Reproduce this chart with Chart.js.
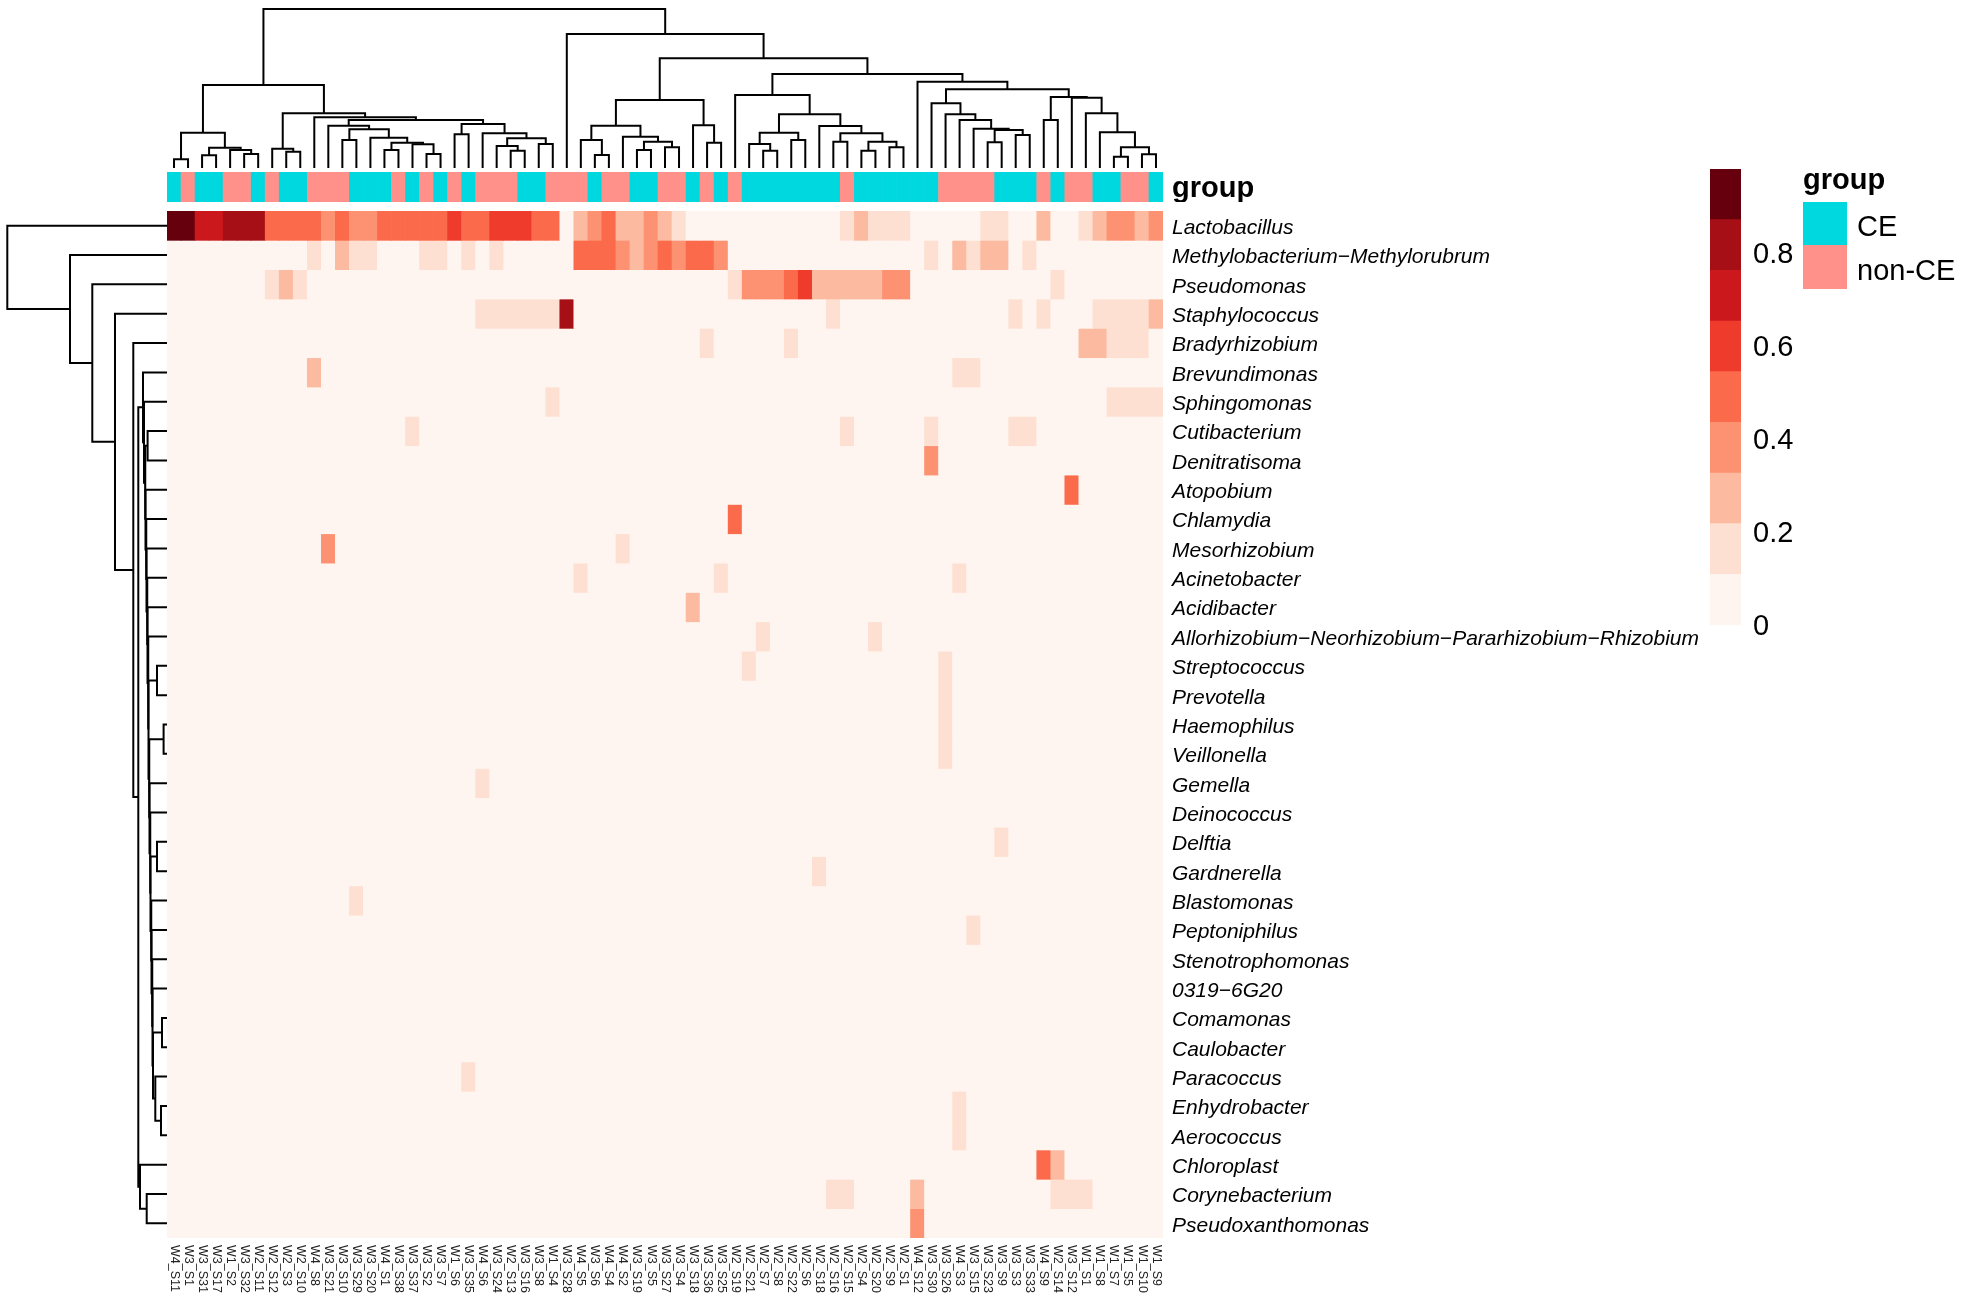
<!DOCTYPE html>
<html>
<head>
<meta charset="utf-8">
<script src="https://cdn.jsdelivr.net/npm/chart.js@4.4.0/dist/chart.umd.min.js"></script>
<style>
  body { margin: 0; background: #fff; width: 1961px; height: 1295px; position: relative; overflow: hidden;
         font-family: "Liberation Sans", Arial, sans-serif; }
  canvas { position: absolute; }
  .leg { position: absolute; font-size: 29px; line-height: 29px; color: #000; white-space: nowrap; }
  .box { position: absolute; width: 44px; }
</style>
</head>
<body>
<canvas id="colDend" width="996" height="168" style="left:167px;top:0px"></canvas>
<canvas id="rowDend" width="167" height="1027" style="left:0px;top:211px"></canvas>
<canvas id="annot" width="1120" height="30" style="left:167px;top:172px"></canvas>
<canvas id="heat" width="1541" height="1084" style="left:167px;top:211px"></canvas>
<canvas id="key" width="101" height="500" style="left:1710px;top:150px"></canvas>
<div class="leg" style="left:1803px;top:165px;font-weight:bold">group</div>
<div class="box" style="left:1803px;top:202px;height:43px;background:#00D8E0"></div>
<div class="box" style="left:1803px;top:245px;height:44px;background:#FF918A"></div>
<div class="leg" style="left:1857px;top:212px">CE</div>
<div class="leg" style="left:1857px;top:256px">non-CE</div>
<script>
// samples in dendrogram order (left to right)
const samples = ['W4_S11','W3_S1','W3_S31','W3_S17','W1_S2','W3_S32','W2_S11','W2_S12','W2_S3','W2_S10',
  'W4_S8','W3_S21','W3_S10','W3_S29','W3_S20','W4_S1','W3_S38','W3_S37','W3_S2','W3_S7',
  'W1_S6','W3_S35','W4_S6','W3_S24','W2_S13','W3_S16','W3_S8','W1_S4','W3_S28','W4_S5',
  'W3_S6','W4_S4','W4_S2','W3_S19','W3_S5','W3_S27','W3_S4','W3_S18','W3_S36','W3_S25',
  'W2_S19','W2_S21','W2_S7','W2_S8','W2_S22','W2_S6','W2_S18','W2_S16','W2_S15','W2_S4',
  'W2_S20','W2_S9','W2_S1','W4_S12','W3_S30','W3_S26','W4_S3','W3_S15','W3_S23','W3_S9',
  'W3_S3','W3_S33','W4_S9','W2_S14','W3_S12','W1_S1','W1_S8','W1_S7','W1_S5','W1_S10','W1_S9'];

// C = CE, N = non-CE, same order as samples
const sampleGroup = 'CNCCNNCNCC NNNCCCNCNC NCNNNCCNNN CNNCCNNCNC NCCCCCCCNC CCCCCNNNNC CCNCNNCCNNC'
  .replace(/ /g, '').split('');
const groupNames = {C: 'CE', N: 'non-CE'};
const groupColors = {C: '#00D8E0', N: '#FF918A'};

const genera = ['Lactobacillus','Methylobacterium\u2212Methylorubrum','Pseudomonas','Staphylococcus',
  'Bradyrhizobium','Brevundimonas','Sphingomonas','Cutibacterium','Denitratisoma','Atopobium',
  'Chlamydia','Mesorhizobium','Acinetobacter','Acidibacter',
  'Allorhizobium\u2212Neorhizobium\u2212Pararhizobium\u2212Rhizobium','Streptococcus','Prevotella',
  'Haemophilus','Veillonella','Gemella','Deinococcus','Delftia','Gardnerella','Blastomonas',
  'Peptoniphilus','Stenotrophomonas','0319\u22126G20','Comamonas','Caulobacter','Paracoccus',
  'Enhydrobacter','Aerococcus','Chloroplast','Corynebacterium','Pseudoxanthomonas'];

// relative abundance per genus, one digit per sample = colour bin (0..8)
const Z = '0000000000', Z11 = '00000000000';
const abundanceBins = [
  ['8866777444','4343344444','5445554402','3422321000','0000000012','1110000011','00200123323'],
  [Z,'1021100011','0101000004','4432343443',Z,'0000102122','01000000000'],
  ['0000000121',Z,Z,Z,'1333452222','2330000000','00010000000'],
  [Z,Z,'0011111170',Z,'0000000100',Z,'10100011112'],
  [Z,Z,Z,'0000000010','0000100000',Z,'00000221110'],
  [Z,'2000000000',Z,Z,Z,'0000001100',Z11],
  [Z,Z,'0000000100',Z,Z,Z,'00000001111'],
  [Z,'0000000100',Z,Z,'0000000010','0000100000','11000000000'],
  [Z,Z,Z,Z,Z,'0000300000',Z11],
  [Z,Z,Z,Z,Z,Z,'00004000000'],
  [Z,Z,Z,Z,'4000000000',Z,Z11],
  [Z,'0300000000',Z,'0010000000',Z,Z,Z11],
  [Z,Z,'0000000001','0000000001',Z,'0000001000',Z11],
  [Z,Z,Z,'0000000200',Z,Z,Z11],
  [Z,Z,Z,Z,'0010000000','1000000000',Z11],
  [Z,Z,Z,Z,'0100000000','0000010000',Z11],
  [Z,Z,Z,Z,Z,'0000010000',Z11],
  [Z,Z,Z,Z,Z,'0000010000',Z11],
  [Z,Z,Z,Z,Z,'0000010000',Z11],
  [Z,Z,'0010000000',Z,Z,Z,Z11],
  [Z,Z,Z,Z,Z,Z,Z11],
  [Z,Z,Z,Z,Z,'0000000001',Z11],
  [Z,Z,Z,Z,'0000001000',Z,Z11],
  [Z,'0001000000',Z,Z,Z,Z,Z11],
  [Z,Z,Z,Z,Z,'0000000100',Z11],
  [Z,Z,Z,Z,Z,Z,Z11],
  [Z,Z,Z,Z,Z,Z,Z11],
  [Z,Z,Z,Z,Z,Z,Z11],
  [Z,Z,Z,Z,Z,Z,Z11],
  [Z,Z,'0100000000',Z,Z,Z,Z11],
  [Z,Z,Z,Z,Z,'0000001000',Z11],
  [Z,Z,Z,Z,Z,'0000001000',Z11],
  [Z,Z,Z,Z,Z,Z,'00420000000'],
  [Z,Z,Z,Z,'0000000110','0002000000','00011100000'],
  [Z,Z,Z,Z,Z,'0003000000',Z11]
];

// colour key: 9 equal bins from 0 to ~0.98 (RColorBrewer Reds)
const keyMax = 0.98;
const keyColors = ['#FFF5F0','#FEE0D2','#FCBBA1','#FC9272','#FB6A4A','#EF3B2C','#CB181D','#A50F15','#67000D'];
const keyTicks = [0, 0.2, 0.4, 0.6, 0.8];

// column dendrogram: [left, right, height]; number = sample index, 'mK' = merge K
const colMerges = [
  [0,1,8.7],[2,3,12.7],[5,6,14],[4,'m2',18],['m1','m3',20.3],['m0','m4',35.3],
  [8,9,16.3],[7,'m6',19.3],[12,13,28],[15,16,18],[18,19,14],[17,'m10',23.7],
  ['m9','m11',25.3],[14,'m12',30.3],['m8','m13',38.7],[11,'m14',42.3],[20,21,33.7],
  [24,25,17.3],[23,'m17',22],[26,27,24],['m18','m19',29.7],[22,'m20',34.7],
  ['m16','m21',44],['m15','m22',48],[10,'m23',50.7],['m7','m24',54.7],['m5','m25',83],
  [30,31,13],[29,'m27',28],[33,34,18],[35,36,20.7],['m29','m30',26.3],[32,'m31',31.3],
  ['m28','m32',42.3],[38,39,25.3],[37,'m34',42.7],['m33','m35',68],
  [42,43,17.3],[41,'m37',24],[44,45,28],['m38','m39',35.3],[47,48,26.3],[49,50,17.3],
  [51,52,20.7],['m42','m43',26.3],['m41','m44',34.7],[46,'m45',42],['m40','m46',53.7],
  [40,'m47',73],[58,59,25.7],[60,61,33],['m49','m50',38],[57,'m51',39.3],[56,'m52',48],
  [55,'m53',53.7],[54,'m54',64.7],[62,63,48],[67,68,11.3],[69,70,13.7],['m57','m58',20.7],
  [66,'m59',35.7],[65,'m60',54.7],[64,'m61',70.3],['m56','m62',71],['m55','m63',78.7],
  [53,'m64',86.3],['m48','m65',94],['m36','m66',109.7],[28,'m67',134],['m26','m68',159]
];

// row dendrogram, same notation (number = genus index)
const rowMerges = [
  [33,34,20.3],[32,'m0',27],[30,31,6],[29,'m2',11.7],[27,28,5],['m4','m3',14],
  [26,'m5',14.5],[25,'m6',15],[24,'m7',15.5],[23,'m8',16],[21,22,10],['m10','m9',16.5],
  [20,'m11',17],[19,'m12',17.5],[17,18,3.4],['m14','m13',18],[15,16,10],['m16','m15',18.5],
  [14,'m17',19],[13,'m18',19.5],[12,'m19',20],[11,'m20',20.5],[10,'m21',21],[9,'m22',21.5],
  [7,8,19.4],['m24','m23',22],[6,'m25',23],[5,'m26',24],['m27','m1',28.7],[4,'m28',33.7],
  [3,'m29',52],[2,'m30',74.7],[1,'m31',97],[0,'m32',159.7]
];

Chart.defaults.font.family = '"Liberation Sans", Arial, sans-serif';
Chart.defaults.color = '#000';
Chart.defaults.animation = false;
Chart.defaults.events = [];
Chart.defaults.plugins.legend.display = false;
Chart.defaults.plugins.tooltip.enabled = false;

const binWidth = keyMax / keyColors.length;
function colourFor(v) {
  return keyColors[Math.min(keyColors.length - 1, Math.floor(v / binWidth))];
}
const abundance = abundanceBins.map(parts => parts.join('').split('').map(d => (+d + 0.5) * binWidth));
abundance.forEach((r, i) => { if (r.length !== samples.length) console.warn('row', i, r.length); });

// turn merges into 4-point elbows
function dendroSegments(merges) {
  const mx = [], mh = [];
  const node = ref => typeof ref === 'number' ? [ref + 0.5, 0] : [mx[+ref.slice(1)], mh[+ref.slice(1)]];
  return merges.map(([a, b, h], k) => {
    const [xa, ha] = node(a), [xb, hb] = node(b);
    mx[k] = (xa + xb) / 2;
    mh[k] = h;
    return [[xa, ha], [xa, h], [xb, h], [xb, hb]];
  });
}

const lineStyle = {showLine: true, pointRadius: 0, borderColor: '#000', borderWidth: 2, clip: false};
const noPad = s => { s.paddingTop = 0; s.paddingBottom = 0; };

new Chart(document.getElementById('colDend'), {
  type: 'scatter',
  data: {datasets: dendroSegments(colMerges).map(seg => ({
    ...lineStyle, data: seg.map(([p, h]) => ({x: p, y: h}))
  }))},
  options: {
    responsive: false,
    scales: {
      x: {type: 'linear', min: 0, max: samples.length, display: false},
      y: {type: 'linear', min: 0, max: 168, display: false}
    }
  }
});

new Chart(document.getElementById('rowDend'), {
  type: 'scatter',
  data: {datasets: dendroSegments(rowMerges).map(seg => ({
    ...lineStyle, data: seg.map(([p, h]) => ({x: h, y: p}))
  }))},
  options: {
    responsive: false,
    scales: {
      x: {type: 'linear', min: 0, max: 167, reverse: true, display: false},
      y: {type: 'linear', min: 0, max: genera.length, reverse: true, display: false}
    }
  }
});

// annotation row
new Chart(document.getElementById('annot'), {
  type: 'bar',
  data: {
    labels: samples,
    datasets: [{
      data: samples.map(() => 1),
      backgroundColor: sampleGroup.map(g => groupColors[g]),
      barPercentage: 1, categoryPercentage: 1
    }]
  },
  options: {
    responsive: false,
    scales: {
      x: {display: false},
      y: {min: 0, max: 1, display: false},
      yLab: {
        axis: 'y', type: 'category', labels: ['group'], offset: true, position: 'right',
        grid: {display: false, drawTicks: false}, border: {display: false},
        ticks: {padding: 9, labelOffset: 2, font: {size: 29, weight: 'bold'}},
        afterFit: s => { s.width = 124; noPad(s); }
      }
    }
  }
});

const sampleLabels = {
  id: 'sampleLabels',
  afterDraw(chart) {
    const {ctx, chartArea, scales: {x}} = chart;
    ctx.save();
    ctx.font = '12.5px "Liberation Sans", Arial, sans-serif';
    ctx.fillStyle = '#222';
    ctx.textAlign = 'left';
    ctx.textBaseline = 'middle';
    samples.forEach((s, i) => {
      ctx.save();
      ctx.translate(x.getPixelForValue(i), chartArea.bottom + 7);
      ctx.rotate(Math.PI / 2);
      ctx.fillText(s, 0, 0);
      ctx.restore();
    });
    ctx.restore();
  }
};

// heatmap: one stacked dataset per genus
new Chart(document.getElementById('heat'), {
  type: 'bar',
  data: {
    labels: samples,
    datasets: genera.map((g, r) => ({
      label: g,
      data: samples.map(() => 1),
      backgroundColor: abundance[r].map(colourFor),
      barPercentage: 1, categoryPercentage: 1
    }))
  },
  options: {
    responsive: false,
    layout: {padding: {bottom: 57}},
    scales: {
      x: {stacked: true, display: false},
      y: {stacked: true, min: 0, max: genera.length, reverse: true, display: false},
      yLab: {
        axis: 'y', type: 'category', labels: genera, offset: true, position: 'right',
        grid: {display: false, drawTicks: false}, border: {display: false},
        ticks: {padding: 9, labelOffset: 2.5, autoSkip: false, font: {size: 21, style: 'italic'}},
        afterFit: s => { s.width = 545; noPad(s); }
      }
    }
  },
  plugins: [sampleLabels]
});

// colour key
new Chart(document.getElementById('key'), {
  type: 'bar',
  data: {
    labels: [''],
    datasets: keyColors.map(c => ({data: [binWidth], backgroundColor: c, barPercentage: 1, categoryPercentage: 1}))
  },
  options: {
    responsive: false,
    layout: {padding: {top: 19, bottom: 25}},
    scales: {
      x: {stacked: true, display: false},
      y: {
        stacked: true, min: 0, max: keyMax, position: 'right',
        grid: {display: false, drawTicks: false}, border: {display: false},
        afterBuildTicks: s => { s.ticks = keyTicks.map(v => ({value: v})); },
        ticks: {padding: 12, labelOffset: 2, font: {size: 29}, callback: v => String(v)},
        afterFit: s => { s.width = 70; noPad(s); }
      }
    }
  }
});
</script>
</body>
</html>
